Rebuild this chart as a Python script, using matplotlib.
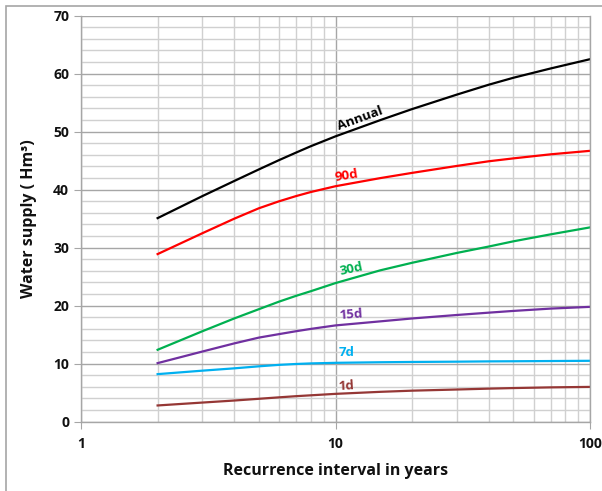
import matplotlib.pyplot as plt
from matplotlib.patches import Rectangle
from matplotlib.ticker import FixedLocator, MultipleLocator, NullFormatter

plt.rcParams['font.family'] = ['Open Sans', 'DejaVu Sans']
plt.rcParams['font.weight'] = 'bold'

# Recurrence intervals (years)
years = [2, 3, 4, 5, 6, 7, 8, 10, 15, 20, 30, 40, 50, 70, 100]

# Water supply (Hm3) for each duration
annual = [35.1, 38.9, 41.5, 43.5, 45.1, 46.4, 47.5, 49.2, 52.0, 53.9, 56.4, 58.1, 59.3, 60.9, 62.5]
d90 = [28.9, 32.5, 35.0, 36.8, 38.0, 38.9, 39.6, 40.6, 42.0, 42.9, 44.1, 44.9, 45.4, 46.1, 46.7]
d30 = [12.4, 15.6, 17.8, 19.4, 20.7, 21.7, 22.5, 23.9, 26.1, 27.4, 29.1, 30.2, 31.1, 32.3, 33.5]
d15 = [10.1, 12.1, 13.5, 14.5, 15.1, 15.6, 16.0, 16.6, 17.3, 17.8, 18.4, 18.8, 19.1, 19.5, 19.8]
d7 = [8.2, 8.8, 9.2, 9.55, 9.8, 9.95, 10.05, 10.15, 10.25, 10.3, 10.35, 10.4, 10.42, 10.46, 10.5]
d1 = [2.8, 3.3, 3.65, 3.95, 4.2, 4.4, 4.55, 4.8, 5.15, 5.35, 5.55, 5.7, 5.8, 5.92, 6.0]

series = [
    (annual, 'Annual', '#000000', 12.5, 52.3, 20),
    (d90, '90d', '#FF0000', 11.1, 42.4, 9),
    (d30, '30d', '#00B050', 11.5, 26.3, 12),
    (d15, '15d', '#7030A0', 11.5, 18.4, 4),
    (d7, '7d', '#00B0F0', 11.1, 11.9, 0),
    (d1, '1d', '#953735', 11.0, 6.2, 3),
]

fig = plt.figure(figsize=(6.02, 4.91), dpi=100)
ax = fig.add_axes([81 / 602, 1 - 421.7 / 491, 509 / 602, 406 / 491])

# light frame around the chart
fig.patches.append(Rectangle((5.5 / 602, -0.1), 1.2, (1 - 5.5 / 491) + 0.1,
                             transform=fig.transFigure, fill=False,
                             edgecolor='#A6A6A6', linewidth=1.2))

ax.set_xscale('log')
ax.set_xlim(1, 100)
ax.set_ylim(0, 70)

ax.xaxis.set_major_locator(FixedLocator([1, 10, 100]))
ax.xaxis.set_major_formatter(plt.FuncFormatter(lambda v, p: f'{v:g}'))
ax.xaxis.set_minor_locator(FixedLocator([m * d for d in (1, 10) for m in range(2, 10)]))
ax.xaxis.set_minor_formatter(NullFormatter())
ax.yaxis.set_major_locator(MultipleLocator(10))
ax.yaxis.set_minor_locator(MultipleLocator(2))

ax.grid(which='major', color='#A6A6A6', linewidth=1.0)
ax.grid(which='minor', color='#D0D0D0', linewidth=1.0)
ax.set_axisbelow(True)

ax.spines['top'].set_visible(False)
for s in ('left', 'bottom', 'right'):
    ax.spines[s].set_color('#A6A6A6')
    ax.spines[s].set_linewidth(1.0)

ax.tick_params(which='major', length=5, color='#A6A6A6', labelsize=10,
               labelcolor='#111111')
ax.tick_params(axis='x', which='major', pad=6)
ax.tick_params(which='minor', length=0)
for lab in ax.get_xticklabels() + ax.get_yticklabels():
    lab.set_fontweight('bold')

for vals, name, col, lx, ly, rot in series:
    ax.plot(years, vals, color=col, linewidth=1.6, solid_joinstyle='round')
    ax.text(lx, ly, name, color=col, fontsize=9.5, fontweight='bold',
            rotation=rot, ha='center', va='center', rotation_mode='anchor')

ax.set_ylabel('Water supply ( Hm³)', fontsize=11.5, fontweight='bold',
              color='#111111', labelpad=12)
ax.set_xlabel('Recurrence interval in years', fontsize=11.5, fontweight='bold',
              color='#111111', labelpad=9)

fig.savefig('out.png', dpi=100)
